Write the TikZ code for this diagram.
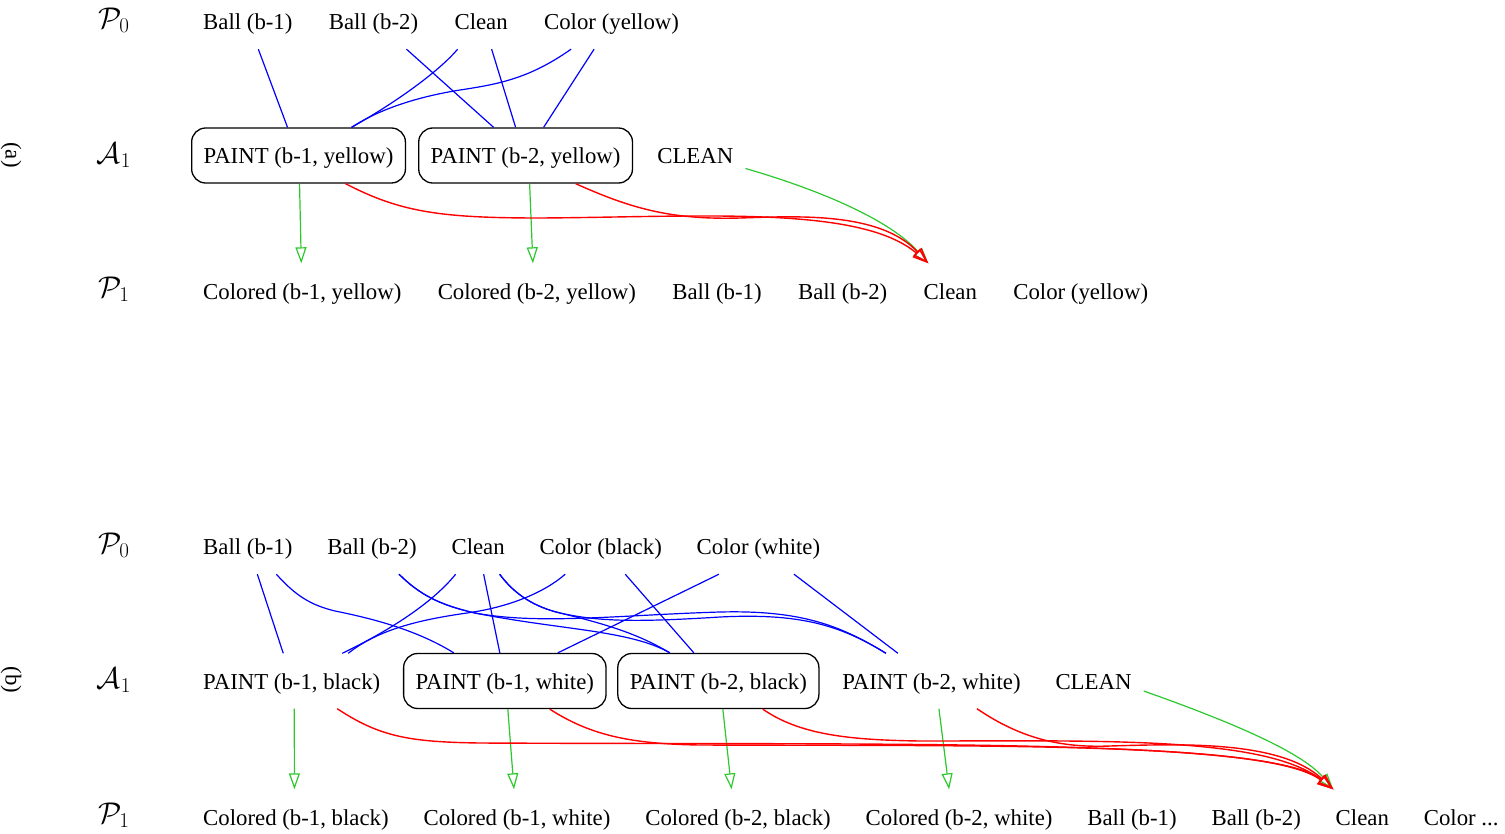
\RequirePackage{fix-cm}
\documentclass[tikz,border=0pt]{standalone}
\usepackage{fontspec}
\setmainfont{Liberation Serif}
\usepackage{tikz}
\usetikzlibrary{arrows.meta, positioning, calc}
\definecolor{addgreen}{RGB}{45,200,45}

\begin{document}
\begin{tikzpicture}[
    x=1pt, y=-1pt,
    fact/.style={
      rectangle, inner xsep=12pt, inner ysep=0pt,
      text height=21pt, text depth=5pt,
      minimum height=55pt, font=\fontsize{22.8}{27}\selectfont
    },
    act/.style={fact, draw=black, line width=1.3pt, rounded corners=14pt},
    lvl/.style={font=\fontsize{30}{36}\selectfont},
    panel/.style={font=\fontsize{22.8}{27}\selectfont, rotate=-90},
    pre/.style={draw=blue, line width=1.2pt},
    add/.style={draw=addgreen, line width=1.2pt, -{Triangle[open, length=16pt, width=11pt]}},
    del/.style={draw=red, line width=1.4pt, -{Triangle[open, length=16pt, width=11pt]}},
    node distance=12pt
  ]
  \useasboundingbox (0,0) rectangle (1505,833);

  \node[panel] (capa) at (11,155) {(a)};
  \node[lvl] (ta0) at (114,20) {$\mathcal{P}_0$};
  \node[lvl] (ta1) at (114,155) {$\mathcal{A}_1$};
  \node[lvl] (ta2) at (114,289) {$\mathcal{P}_1$};

  \node[fact, anchor=west] (tball1) at (191,21.5) {Ball (b-1)};
  \node[fact, right=of tball1] (tball2) {Ball (b-2)};
  \node[fact, right=of tball2] (tclean) {Clean};
  \node[fact, right=of tclean] (tyel) {Color (yellow)};

  \node[act, anchor=west] (tpaint1) at (191,155.5) {PAINT (b-1, yellow)};
  \node[act, right=of tpaint1] (tpaint2) {PAINT (b-2, yellow)};
  \node[fact, right=of tpaint2] (tcln) {CLEAN};

  \node[fact, anchor=west] (tcol1) at (191,291) {Colored (b-1, yellow)};
  \node[fact, right=of tcol1] (tcol2) {Colored (b-2, yellow)};
  \node[fact, right=of tcol2] (tball1n) {Ball (b-1)};
  \node[fact, right=of tball1n] (tball2n) {Ball (b-2)};
  \node[fact, right=of tball2n] (tcleann) {Clean};
  \node[fact, right=of tcleann] (tyeln) {Color (yellow)};

  \draw[pre] ([xshift=10.5pt]tball1.south) -- ([xshift=-11pt]tpaint1.north);
  \draw[pre] ([xshift=33pt]tball2.south) -- ([xshift=-32pt]tpaint2.north);
  \draw[pre] ([xshift=-23.5pt]tclean.south) .. controls (440,70) and (400,100) .. ([xshift=53pt]tpaint1.north);
  \draw[pre] ([xshift=10.5pt]tclean.south) -- ([xshift=-10pt]tpaint2.north);
  \draw[pre] ([xshift=-40.5pt]tyel.south) .. controls (530,78) and (500,84) .. (460,90) .. controls (410,98) and (375,112) .. ([xshift=53pt]tpaint1.north);
  \draw[pre] ([xshift=-17.5pt]tyel.south) -- ([xshift=18pt]tpaint2.north);

  \draw[add] ([xshift=1pt]tpaint1.south) -- ([xshift=-1pt]tcol1.north);
  \draw[add] ([xshift=4pt]tpaint2.south) -- ([xshift=-4pt]tcol2.north);
  \draw[add] ([yshift=-13pt]tcln.east) .. controls (820,190) and (890,220) .. ([xshift=-22pt]tcleann.north);

  \draw[del] ([xshift=47pt]tpaint1.south) .. controls (400,212) and (440,218) .. (540,218) .. controls (700,217) and (860,205) .. ([xshift=-22pt]tcleann.north);
  \draw[del] ([xshift=50pt]tpaint2.south) .. controls (630,208) and (670,220) .. (740,218) .. controls (800,216) and (880,212) .. ([xshift=-22pt]tcleann.north);

  \begin{scope}[node distance=10.5pt]
  \node[panel] (capb) at (11,680) {(b)};
  \node[lvl] (tb0) at (114,545) {$\mathcal{P}_0$};
  \node[lvl] (tb1) at (114,680) {$\mathcal{A}_1$};
  \node[lvl] (tb2) at (114,815) {$\mathcal{P}_1$};

  \node[fact, anchor=west] (bball1) at (191,546.5) {Ball (b-1)};
  \node[fact, right=of bball1] (bball2) {Ball (b-2)};
  \node[fact, right=of bball2] (bclean) {Clean};
  \node[fact, right=of bclean] (bblk) {Color (black)};
  \node[fact, right=of bblk] (bwht) {Color (white)};

  \node[fact, anchor=west] (bpb1) at (191,681) {PAINT (b-1, black)};
  \node[act, right=of bpb1] (bpw1) {PAINT (b-1, white)};
  \node[act, right=of bpw1] (bpb2) {PAINT (b-2, black)};
  \node[fact, right=of bpb2] (bpw2) {PAINT (b-2, white)};
  \node[fact, right=of bpw2] (bcln) {CLEAN};

  \node[fact, anchor=west] (bcb1) at (191,817) {Colored (b-1, black)};
  \node[fact, right=of bcb1] (bcw1) {Colored (b-1, white)};
  \node[fact, right=of bcw1] (bcb2) {Colored (b-2, black)};
  \node[fact, right=of bcb2] (bcw2) {Colored (b-2, white)};
  \node[fact, right=of bcw2] (bball1n) {Ball (b-1)};
  \node[fact, right=of bball1n] (bball2n) {Ball (b-2)};
  \node[fact, right=of bball2n] (bcleann) {Clean};
  \node[fact, right=of bcleann] (bcoln) {Color ...};
  \end{scope}

  \draw[pre] ([xshift=9.5pt]bball1.south) -- ([xshift=-8.5pt]bpb1.north);
  \draw[pre] ([xshift=28.5pt]bball1.south) .. controls (295,595) and (310,605) .. (335,611) .. controls (380,620) and (420,632) .. ([xshift=-51pt]bpw1.north);
  \draw[pre] ([xshift=27pt]bball2.south) .. controls (420,595) and (440,605) .. (475,613) .. controls (560,630) and (630,630) .. ([xshift=-48.5pt]bpb2.north);
  \draw[pre] ([xshift=27pt]bball2.south) .. controls (420,595) and (440,605) .. (475,613) .. controls (540,625) and (620,615) .. (720,612) .. controls (800,610) and (840,625) .. ([xshift=-45.5pt]bpw2.north);
  \draw[pre] ([xshift=-22.5pt]bclean.south) .. controls (435,600) and (395,628) .. ([xshift=50.5pt]bpb1.north);
  \draw[pre] ([xshift=5.5pt]bclean.south) -- ([xshift=-5pt]bpw1.north);
  \draw[pre] ([xshift=21.5pt]bclean.south) .. controls (515,595) and (535,607) .. (560,613) .. controls (610,625) and (640,635) .. ([xshift=-48.5pt]bpb2.north);
  \draw[pre] ([xshift=21.5pt]bclean.south) .. controls (515,595) and (535,607) .. (560,613) .. controls (600,622) and (640,622) .. (720,617) .. controls (800,613) and (840,625) .. ([xshift=-45.5pt]bpw2.north);
  \draw[pre] ([xshift=-35.5pt]bblk.south) .. controls (545,592) and (510,607) .. (467,613) .. controls (425,619) and (380,628) .. ([xshift=56.5pt]bpb1.north);
  \draw[pre] ([xshift=24.5pt]bblk.south) -- ([xshift=-24.5pt]bpb2.north);
  \draw[pre] ([xshift=-39.5pt]bwht.south) -- ([xshift=53pt]bpw1.north);
  \draw[pre] ([xshift=35.5pt]bwht.south) -- ([xshift=-33.5pt]bpw2.north);

  \draw[add] ([xshift=2.5pt]bpb1.south) -- ([xshift=-1.5pt]bcb1.north);
  \draw[add] ([xshift=3pt]bpw1.south) -- ([xshift=-3pt]bcw1.north);
  \draw[add] ([xshift=4.5pt]bpb2.south) -- ([xshift=-6.5pt]bcb2.north);
  \draw[add] ([xshift=7.5pt]bpw2.south) -- ([xshift=-10pt]bcw2.north);
  \draw[add] ([yshift=-10pt]bcln.east) .. controls (1220,718) and (1300,750) .. ([xshift=-29pt]bcleann.north);

  \draw[del] ([xshift=45.5pt]bpb1.south) .. controls (380,737) and (410,742) .. (480,743) .. controls (900,745) and (1270,738) .. ([xshift=-29pt]bcleann.north);
  \draw[del] ([xshift=45pt]bpw1.south) .. controls (590,735) and (630,744) .. (700,745) .. controls (1000,746) and (1270,742) .. ([xshift=-29pt]bcleann.north);
  \draw[del] ([xshift=44.5pt]bpb2.south) .. controls (800,735) and (850,740) .. (920,741) .. controls (1100,741) and (1265,736) .. ([xshift=-29pt]bcleann.north);
  \draw[del] ([xshift=45.5pt]bpw2.south) .. controls (1020,738) and (1060,748) .. (1110,746) .. controls (1180,744) and (1280,740) .. ([xshift=-29pt]bcleann.north);
\end{tikzpicture}
\end{document}
